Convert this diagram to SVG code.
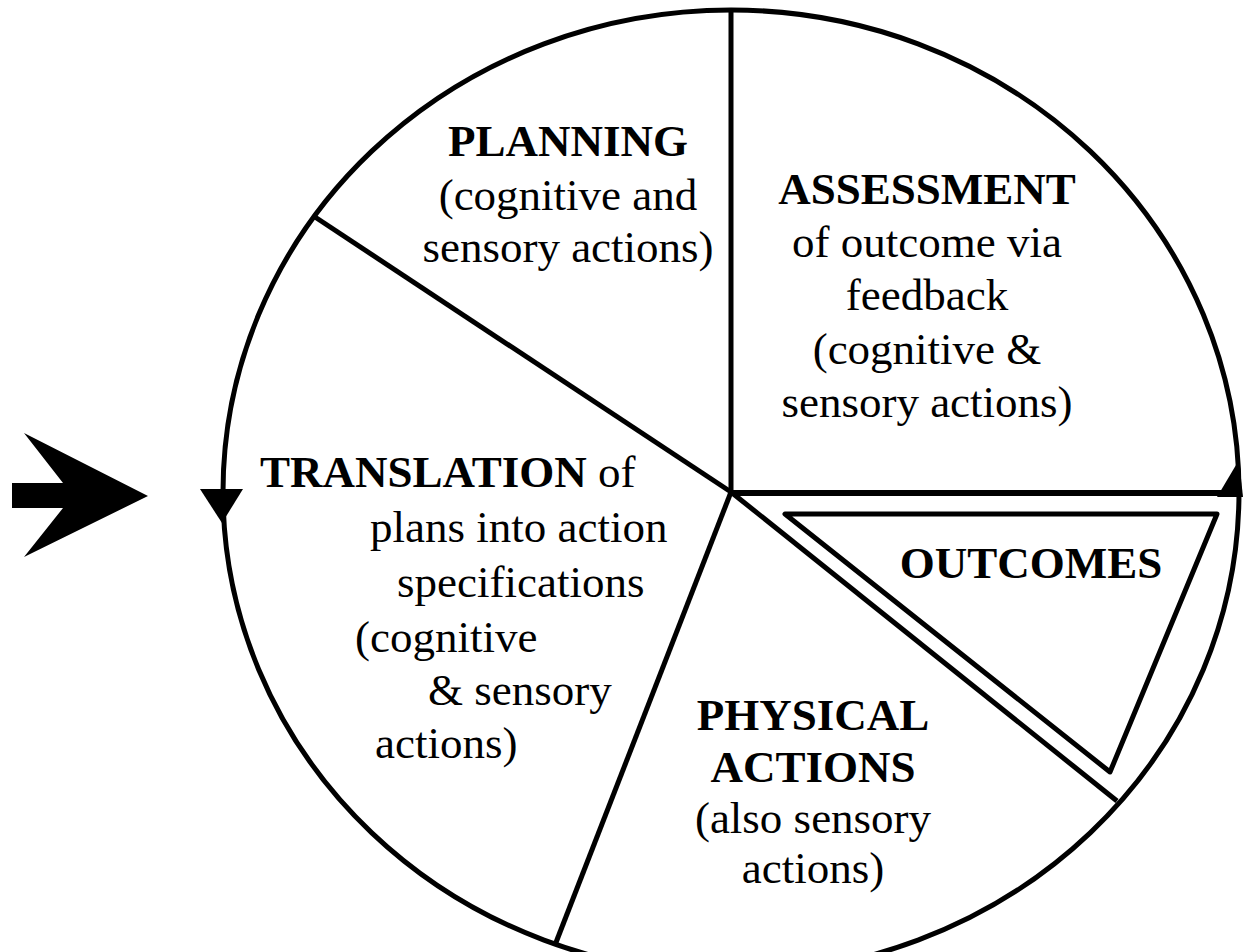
<svg xmlns="http://www.w3.org/2000/svg" width="1246" height="952" viewBox="0 0 1246 952">
<style>
.ln{stroke:#000;stroke-width:5;fill:none;stroke-linecap:butt}
.t{font-family:"Liberation Serif","Times New Roman",serif;font-size:45px;fill:#000}
.b{font-weight:bold}
.c{text-anchor:middle}
</style>
<rect width="1246" height="952" fill="#fff"/>
<g id="wheel">
<ellipse cx="731" cy="492" rx="508" ry="482" class="ln"/>
</g>
<g id="connectors">
<line x1="731" y1="492" x2="731" y2="10" class="ln"/>
<line x1="731" y1="492" x2="315" y2="217" class="ln"/>
<line x1="731" y1="492" x2="555" y2="945" class="ln"/>
<line x1="731" y1="492" x2="1117" y2="801" class="ln"/>
<line x1="731" y1="493" x2="1239" y2="493" class="ln" style="stroke-width:6"/>
<polygon points="1217,497 1239,460 1243,497" fill="#000"/>
<polygon points="200,489 243,489 222,523" fill="#000"/>
<polygon points="12,483 63,483 24,433 148,496 24,557 63,508 12,508" fill="#000"/>
</g>
<g id="planning">
<text class="t b c" x="568" y="156">PLANNING</text>
<text class="t c" x="568" y="210">(cognitive and</text>
<text class="t c" x="568" y="262">sensory actions)</text>
</g>
<g id="assessment">
<text class="t b c" x="927" y="204">ASSESSMENT</text>
<text class="t c" x="927" y="257">of outcome via</text>
<text class="t c" x="927" y="310">feedback</text>
<text class="t c" x="927" y="364">(cognitive &amp;</text>
<text class="t c" x="927" y="417">sensory actions)</text>
</g>
<g id="translation">
<text class="t" x="260" y="487"><tspan class="b">TRANSLATION</tspan> of</text>
<text class="t" x="370" y="542">plans into action</text>
<text class="t" x="397" y="597">specifications</text>
<text class="t" x="355" y="652">(cognitive</text>
<text class="t" x="428" y="705">&amp; sensory</text>
<text class="t" x="375" y="758">actions)</text>
</g>
<g id="physical">
<text class="t b c" x="813" y="730">PHYSICAL</text>
<text class="t b c" x="813" y="782">ACTIONS</text>
<text class="t c" x="813" y="833">(also sensory</text>
<text class="t c" x="813" y="883">actions)</text>
</g>
<g id="outcomes">
<polygon points="785,514 1217,514 1110,772" fill="none" stroke="#000" stroke-width="5" stroke-linejoin="round"/>
<text class="t b c" x="1031" y="578">OUTCOMES</text>
</g>
</svg>
